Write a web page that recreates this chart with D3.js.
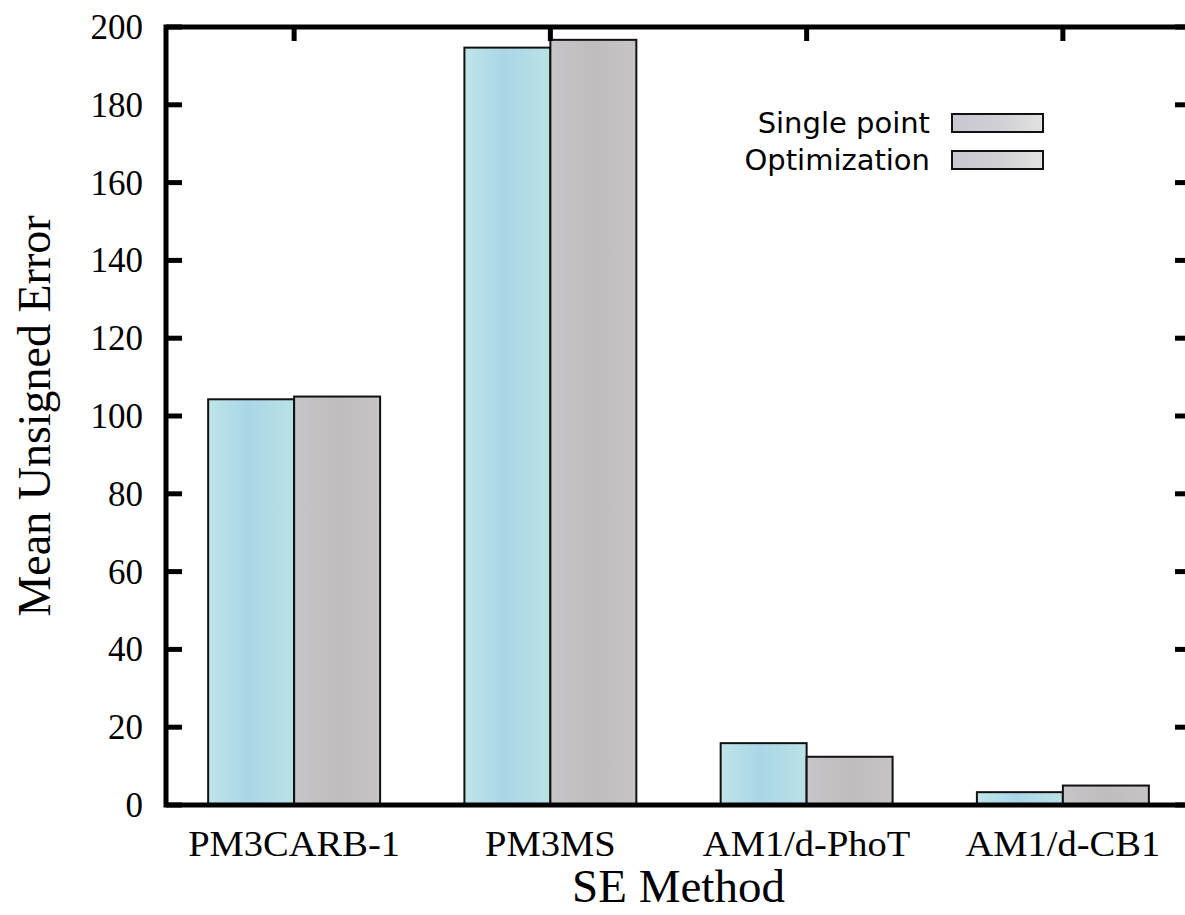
<!DOCTYPE html>
<html>
<head>
<meta charset="utf-8">
<script src="https://cdn.jsdelivr.net/npm/d3@7"></script>
<style>
	body { margin: 0; background: #fff; }
	svg { display: block; }
</style>
</head>
<body>
<svg id="chart" width="1185" height="915"></svg>
<script>
	var methods = [ "PM3CARB-1", "PM3MS", "AM1/d-PhoT", "AM1/d-CB1" ];
	var seriesNames = [ "Single point", "Optimization" ];
	var singlePoint = [ 104.3, 194.7, 15.9, 3.3 ];
	var optimization = [ 105.0, 196.7, 12.4, 5.0 ];
	var yTicks = [ 0, 20, 40, 60, 80, 100, 120, 140, 160, 180, 200 ];

	(function() {
		var plotLeft = 166, plotRight = 1191, plotTop = 27, plotBottom = 805;
		var svg = d3.select("#chart");

		var defs = svg.append("defs");
		function addGradient(id, stops) {
			var g = defs.append("linearGradient").attr("id", id)
				.attr("x1", "0%").attr("x2", "100%").attr("y1", "0%").attr("y2", "0%");
			stops.forEach(function(s) {
				g.append("stop").attr("offset", s[0]).attr("stop-color", s[1]);
			});
		}
		addGradient("gBlue", [ [ "0%", "#bfe5e8" ], [ "45%", "#aad6e8" ], [ "100%", "#bae1e5" ] ]);
		addGradient("gGrey", [ [ "0%", "#c8c4c8" ], [ "50%", "#bfbdbe" ], [ "100%", "#c6c4c4" ] ]);
		addGradient("gLeg", [ [ "0%", "#c9c8d2" ], [ "50%", "#cfcfd4" ], [ "100%", "#e2e2e2" ] ]);

		var x0 = d3.scaleBand().domain(methods).range([ plotLeft, plotRight ]).paddingInner(0.329).paddingOuter(0.1645);
		var x1 = d3.scaleBand().domain(seriesNames).range([ 0, x0.bandwidth() ]);
		var y = d3.scaleLinear().domain([ 0, 200 ]).range([ plotBottom, plotTop ]);

		var rows = [];
		methods.forEach(function(m, i) {
			rows.push({ method : m, series : seriesNames[0], value : singlePoint[i] });
			rows.push({ method : m, series : seriesNames[1], value : optimization[i] });
		});

		// bars
		svg.append("g").selectAll("rect").data(rows).enter().append("rect")
			.attr("x", function(d) { return x0(d.method) + x1(d.series); })
			.attr("y", function(d) { return y(d.value); })
			.attr("width", x1.bandwidth())
			.attr("height", function(d) { return y(0) - y(d.value); })
			.style("fill", function(d) { return d.series == seriesNames[0] ? "url(#gBlue)" : "url(#gGrey)"; })
			.style("stroke", "#111")
			.style("stroke-width", 2);

		// frame
		svg.append("rect").attr("x", plotLeft).attr("y", plotTop)
			.attr("width", plotRight - plotLeft).attr("height", plotBottom - plotTop)
			.style("stroke", "#000").style("stroke-width", 5).style("fill", "none");

		// y ticks, left and mirrored right; top ticks at categories
		var tickG = svg.append("g").style("stroke", "#000").style("stroke-width", 5);
		tickG.selectAll(".yl").data(yTicks).enter().append("line")
			.attr("x1", plotLeft).attr("x2", plotLeft + 16)
			.attr("y1", function(d) { return y(d); }).attr("y2", function(d) { return y(d); });
		tickG.selectAll(".yr").data(yTicks).enter().append("line")
			.attr("x1", plotRight).attr("x2", plotRight - 16)
			.attr("y1", function(d) { return y(d); }).attr("y2", function(d) { return y(d); });
		tickG.selectAll(".xt").data(methods).enter().append("line")
			.attr("x1", function(d) { return x0(d) + x0.bandwidth() / 2; })
			.attr("x2", function(d) { return x0(d) + x0.bandwidth() / 2; })
			.attr("y1", plotTop).attr("y2", plotTop + 14);

		// tick labels
		svg.append("g").selectAll("text").data(yTicks).enter().append("text")
			.attr("x", 143).attr("y", function(d) { return y(d); })
			.attr("dy", "0.34em")
			.attr("text-anchor", "end")
			.style("font-family", "Liberation Serif, serif").style("font-size", "35px")
			.text(function(d) { return d; });

		svg.append("g").selectAll("text").data(methods).enter().append("text")
			.attr("x", function(d) { return x0(d) + x0.bandwidth() / 2; }).attr("y", 856)
			.attr("text-anchor", "middle")
			.attr("transform", function(d) {
				var cx = x0(d) + x0.bandwidth() / 2;
				return "translate(" + cx + ",0) scale(1.07,1) translate(" + (-cx) + ",0)";
			})
			.style("font-family", "Liberation Serif, serif").style("font-size", "36px")
			.text(function(d) { return d; });

		// axis titles
		svg.append("text").attr("x", (plotLeft + plotRight) / 2).attr("y", 902)
			.attr("text-anchor", "middle")
			.style("font-family", "Liberation Serif, serif").style("font-size", "47px")
			.text("SE Method");
		svg.append("text").attr("transform", "translate(50," + (plotTop + plotBottom) / 2 + ") rotate(-90)")
			.attr("text-anchor", "middle")
			.style("font-family", "Liberation Serif, serif").style("font-size", "46px")
			.text("Mean Unsigned Error");

		// legend
		var legend = svg.append("g").selectAll("g").data(seriesNames).enter().append("g")
			.attr("transform", function(d, i) { return "translate(0," + (123 + i * 37) + ")"; });
		legend.append("text").attr("x", 930).attr("dy", "0.36em")
			.attr("text-anchor", "end")
			.style("font-family", "DejaVu Sans, sans-serif").style("font-size", "29px")
			.text(function(d) { return d; });
		legend.append("rect").attr("x", 952).attr("y", -9).attr("width", 91).attr("height", 18)
			.style("fill", "url(#gLeg)").style("stroke", "#111").style("stroke-width", 2);
	})();
</script>
</body>
</html>
